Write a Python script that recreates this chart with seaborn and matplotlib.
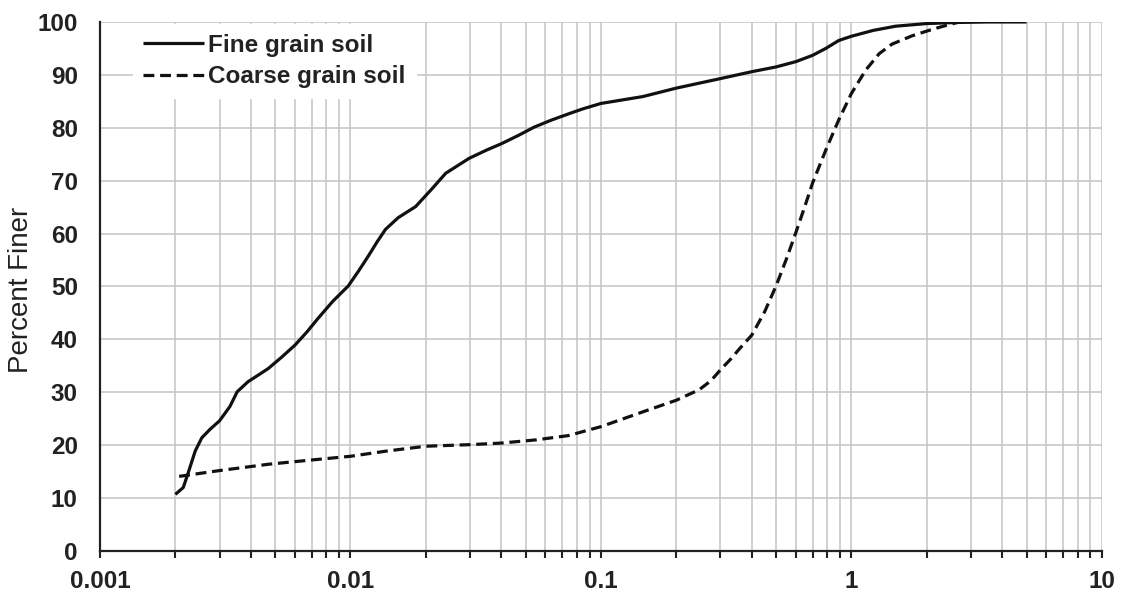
import numpy as np
import pandas as pd
import matplotlib
matplotlib.use("Agg")
import matplotlib.pyplot as plt
from matplotlib.ticker import LogLocator, NullFormatter
import seaborn as sns

# Grain size distribution (particle diameter in mm, percent finer)
fine_d = [0.002, 0.00215, 0.00224, 0.0024, 0.00255, 0.00275, 0.003, 0.0033,
          0.00353, 0.0039, 0.0043, 0.0047, 0.0053, 0.006, 0.0067, 0.0074,
          0.0085, 0.0098, 0.0108, 0.0118, 0.0128, 0.0138, 0.0155, 0.0182,
          0.021, 0.024, 0.0297, 0.035, 0.0401, 0.047, 0.054, 0.063, 0.0739,
          0.085, 0.1, 0.147, 0.2, 0.3, 0.4, 0.5, 0.6, 0.7, 0.79, 0.89, 1.0,
          1.22, 1.5, 2.0, 2.6, 3.5, 5.0]
fine_p = [10.7, 12.0, 14.5, 18.9, 21.4, 23.0, 24.6, 27.3,
          30.1, 32.0, 33.3, 34.5, 36.6, 38.9, 41.4, 43.9,
          47.2, 50.1, 53.0, 55.8, 58.5, 60.8, 63.0, 65.1,
          68.3, 71.4, 74.2, 75.8, 77.0, 78.6, 80.1, 81.4, 82.6,
          83.6, 84.6, 85.9, 87.5, 89.3, 90.6, 91.5, 92.5, 93.7, 95.0, 96.5, 97.3,
          98.4, 99.2, 99.7, 99.9, 100.0, 100.0]

coarse_d = [0.00207, 0.003, 0.00472, 0.007, 0.01, 0.014, 0.02, 0.03, 0.0401,
            0.055, 0.0739, 0.1, 0.147, 0.2, 0.247, 0.275, 0.302, 0.33, 0.357,
            0.4, 0.45, 0.5, 0.55, 0.6, 0.65, 0.7, 0.79, 0.89, 1.0, 1.14,
            1.29, 1.45, 1.75, 2.1, 2.45, 2.7]
coarse_p = [14.1, 15.2, 16.4, 17.2, 17.9, 18.9, 19.8, 20.1, 20.4,
            21.0, 21.8, 23.5, 26.3, 28.5, 30.5, 32.2, 34.4, 36.3, 38.2,
            40.8, 45.2, 50.1, 55.2, 60.2, 65.0, 69.6, 75.8, 81.5, 86.5, 90.9,
            94.0, 95.8, 97.4, 98.6, 99.5, 100.0]

series_labels = ["Fine grain soil", "Coarse grain soil"]
xtick_vals = [0.001, 0.01, 0.1, 1, 10]
xtick_labels = ["0.001", "0.01", "0.1", "1", "10"]
ytick_vals = list(range(0, 101, 10))
y_label = "Percent Finer"

sns.set_theme(style="white")
plt.rcParams["font.family"] = ["Liberation Sans", "DejaVu Sans"]

fig = plt.figure(figsize=(11.21, 5.97), dpi=100)
ax = fig.add_axes([0.0892, 0.0771, 0.8938, 0.8861])

fine_df = pd.DataFrame({"d": fine_d, "p": fine_p})
coarse_df = pd.DataFrame({"d": coarse_d, "p": coarse_p})

sns.lineplot(data=fine_df, x="d", y="p", ax=ax, color="#111111", lw=2.3,
             estimator=None, sort=False, label=series_labels[0])
sns.lineplot(data=coarse_df, x="d", y="p", ax=ax, color="#111111", lw=2.3,
             estimator=None, sort=False, label=series_labels[1])
ax.lines[1].set_dashes((3.4, 1.8))
for ln in ax.lines:
    ln.set_solid_capstyle("butt")
    ln.set_dash_capstyle("butt")
    ln.set_solid_joinstyle("round")

ax.set_xscale("log")
ax.set_xlim(0.001, 10)
ax.set_ylim(0, 100)
ax.set_xticks(xtick_vals, labels=xtick_labels)
ax.xaxis.set_minor_locator(LogLocator(base=10, subs=np.arange(2, 10)))
ax.xaxis.set_minor_formatter(NullFormatter())
ax.set_yticks(ytick_vals)

ax.set_axisbelow(True)
ax.grid(True, which="major", axis="both", color="#c4c4c4", lw=1.1)
ax.grid(True, which="minor", axis="x", color="#c4c4c4", lw=1.1)

for side in ["top", "right"]:
    ax.spines[side].set_visible(False)
for side in ["left", "bottom"]:
    ax.spines[side].set_color("#222222")
    ax.spines[side].set_linewidth(1.6)

ax.tick_params(axis="y", which="major", direction="out", length=6, width=1.5,
               color="#222222", pad=10, labelsize=17.5)
ax.tick_params(axis="x", which="both", direction="out", length=5, width=1.5,
               color="#222222", pad=9, labelsize=17.5, bottom=True)
for lab in ax.get_xticklabels() + ax.get_yticklabels():
    lab.set_fontweight("bold")
    lab.set_color("#222222")

ax.set_xlabel("")
ax.set_ylabel(y_label, fontsize=20, color="#222222")
ax.yaxis.set_label_coords(-0.066, 0.493)

handles, labels = ax.get_legend_handles_labels()
leg = ax.legend(handles, labels, loc="upper left", bbox_to_anchor=(0.033, 0.996),
                borderaxespad=0, frameon=True, fancybox=False, framealpha=1,
                facecolor="white", edgecolor="white", handlelength=2.5,
                handletextpad=0.2, labelspacing=0.35, borderpad=0.4,
                prop={"size": 17.5, "weight": "bold"})
for t in leg.get_texts():
    t.set_color("#222222")

fig.savefig("out.png", dpi=100)
